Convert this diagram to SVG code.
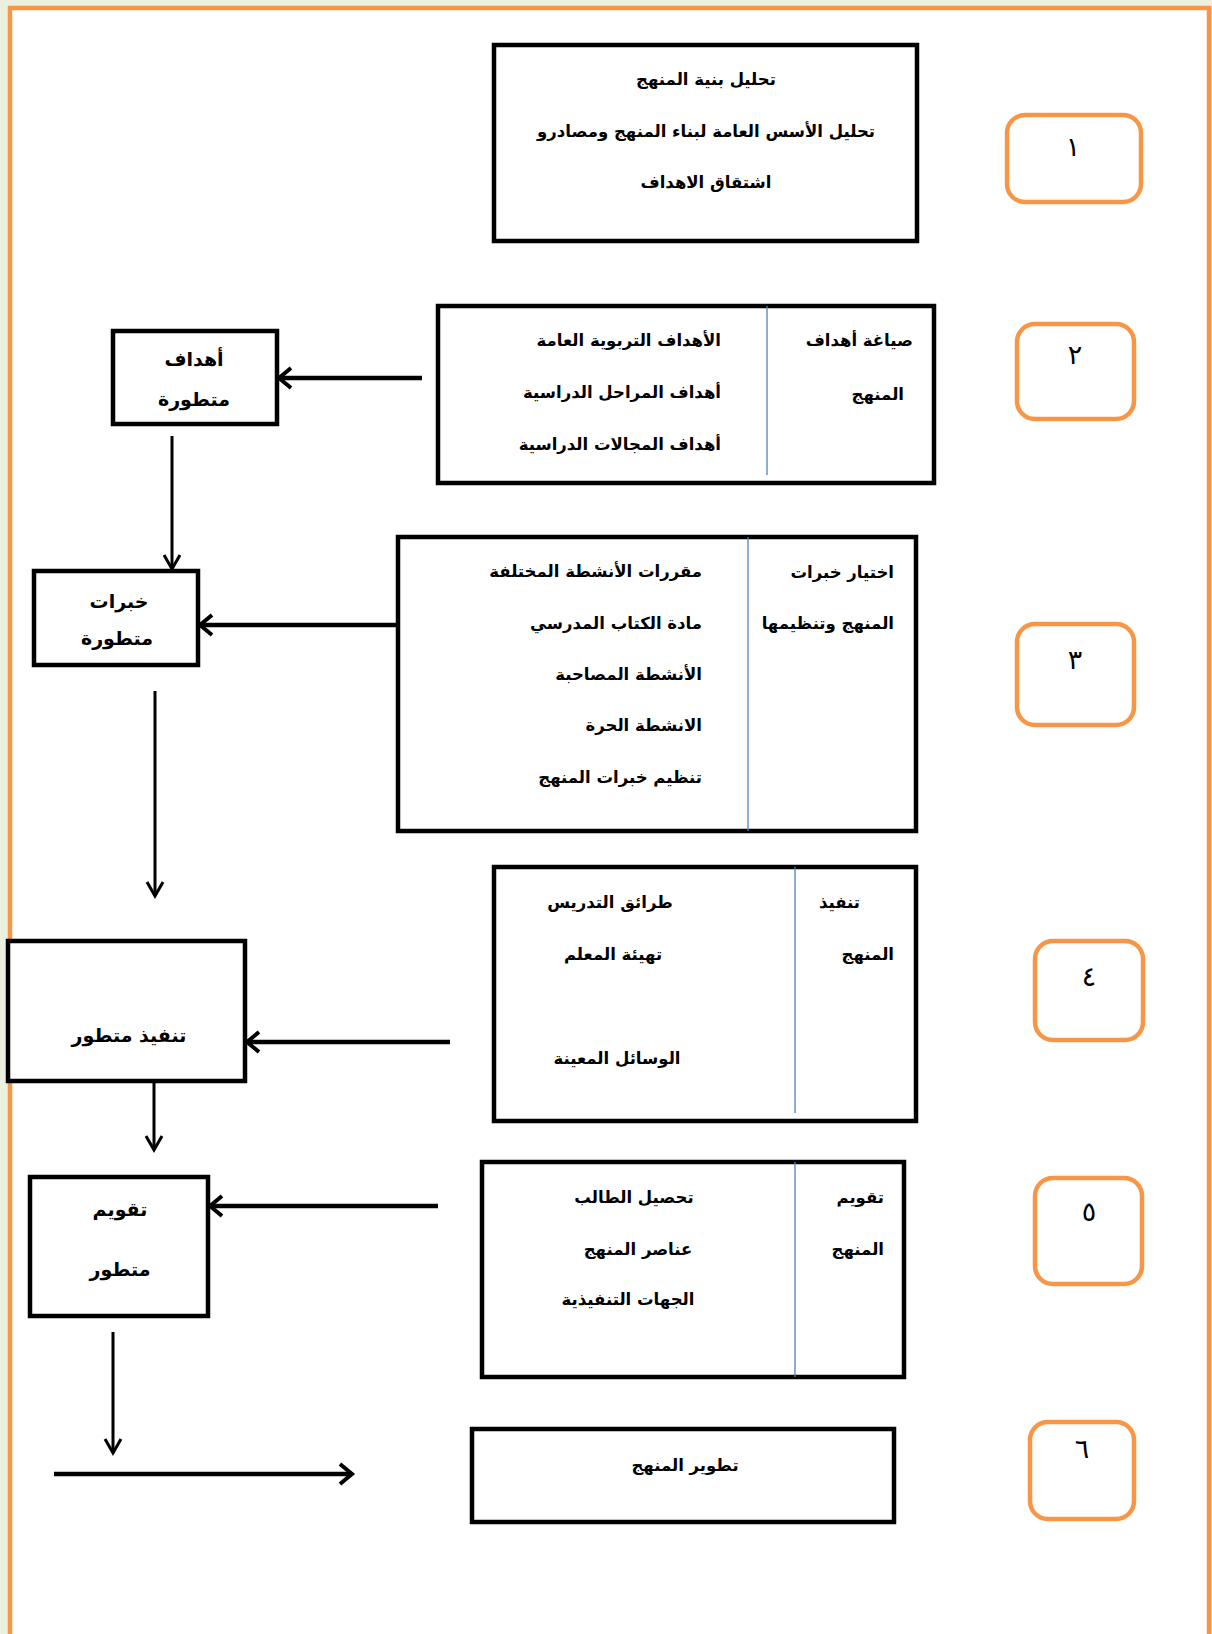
<svg xmlns="http://www.w3.org/2000/svg" width="1212" height="1634" viewBox="0 0 1212 1634">
<defs>
<style>
.box{fill:#fff;stroke:#000;stroke-width:4.5}
.div{stroke:#4f81bd;stroke-width:1.3}
.num{fill:#fff;stroke:#f79646;stroke-width:4.5}
.t{font-family:"DejaVu Sans",sans-serif;font-weight:bold;font-size:16.5px;fill:#000}
.s{font-size:19px}
.n{font-family:"DejaVu Sans",sans-serif;font-size:27px;fill:#000;text-anchor:middle}
.c{text-anchor:middle}
.r{text-anchor:end}
.ln{stroke:#000;stroke-width:4.5;fill:none}
.lt{stroke:#000;stroke-width:3;fill:none}
</style>
<marker id="ah" viewBox="-16 -12 20 24" markerWidth="20" markerHeight="24" refX="0" refY="0" orient="auto" markerUnits="userSpaceOnUse">
<path d="M-12,-10 L0,0 L-12,10" fill="none" stroke="#000" stroke-width="4"/>
</marker>
<marker id="ah2" viewBox="-16 -12 20 24" markerWidth="20" markerHeight="24" refX="0" refY="0" orient="auto" markerUnits="userSpaceOnUse">
<path d="M-14,-8 L0,0 L-14,8" fill="none" stroke="#000" stroke-width="3"/>
</marker>
</defs>
<rect x="0" y="0" width="1212" height="1634" fill="#ebf1de"/>
<rect x="10" y="8" width="1199" height="1640" fill="#fff" stroke="#f79646" stroke-width="4.5"/>

<g id="connectors">
<path class="ln" d="M422,378 L279,378" marker-end="url(#ah)"/>
<path class="lt" d="M172,436 L172,569" marker-end="url(#ah2)"/>
<path class="ln" d="M397,625 L200,625" marker-end="url(#ah)"/>
<path class="lt" d="M155,691 L155,896" marker-end="url(#ah2)"/>
<path class="ln" d="M450,1042 L247,1042" marker-end="url(#ah)"/>
<path class="lt" d="M154,1078 L154,1150" marker-end="url(#ah2)"/>
<path class="ln" d="M438,1206 L210,1206" marker-end="url(#ah)"/>
<path class="lt" d="M113,1332 L113,1453" marker-end="url(#ah2)"/>
<path class="ln" d="M54,1474 L352,1474" marker-end="url(#ah)"/>
</g>

<g id="box1">
<rect class="box" x="494" y="45" width="423" height="196"/>
<text class="t c" x="706" y="85">تحليل بنية المنهج</text>
<text class="t c" x="706" y="137">تحليل الأسس العامة لبناء المنهج ومصادرو</text>
<text class="t c" x="706" y="188">اشتقاق الاهداف</text>
</g>
<g id="num1"><rect class="num" x="1007" y="115" width="134" height="87" rx="18"/><text class="n" x="1073" y="156">١</text></g>

<g id="box2">
<rect class="box" x="438" y="306" width="496" height="177"/>
<line class="div" x1="767" y1="306" x2="767" y2="475"/>
<text class="t r" x="913" y="346">صياغة أهداف</text>
<text class="t r" x="904" y="400">المنهج</text>
<text class="t r" x="721" y="346">الأهداف التربوية العامة</text>
<text class="t r" x="721" y="398">أهداف المراحل الدراسية</text>
<text class="t r" x="721" y="450">أهداف المجالات الدراسية</text>
</g>
<g id="num2"><rect class="num" x="1017" y="324" width="117" height="95" rx="18"/><text class="n" x="1075" y="364">٢</text></g>

<g id="goals">
<rect class="box" x="113" y="331" width="164" height="93"/>
<text class="t s c" x="194" y="366">أهداف</text>
<text class="t s c" x="194" y="406">متطورة</text>
</g>

<g id="experiences">
<rect class="box" x="34" y="571" width="164" height="94"/>
<text class="t s c" x="119" y="608">خبرات</text>
<text class="t s c" x="117" y="645">متطورة</text>
</g>

<g id="box3">
<rect class="box" x="398" y="537" width="518" height="294"/>
<line class="div" x1="748" y1="537" x2="748" y2="831"/>
<text class="t r" x="894" y="578">اختيار خبرات</text>
<text class="t r" x="894" y="629">المنهج وتنظيمها</text>
<text class="t r" x="702" y="577">مقررات الأنشطة المختلفة</text>
<text class="t r" x="702" y="629">مادة الكتاب المدرسي</text>
<text class="t r" x="702" y="680">الأنشطة المصاحبة</text>
<text class="t r" x="702" y="731">الانشطة الحرة</text>
<text class="t r" x="702" y="783">تنظيم خبرات المنهج</text>
</g>
<g id="num3"><rect class="num" x="1017" y="624" width="117" height="101" rx="18"/><text class="n" x="1075" y="669">٣</text></g>

<g id="box4">
<rect class="box" x="494" y="867" width="422" height="254"/>
<line class="div" x1="795" y1="867" x2="795" y2="1113"/>
<text class="t r" x="860" y="908">تنفيذ</text>
<text class="t r" x="894" y="960">المنهج</text>
<text class="t c" x="610" y="908">طرائق التدريس</text>
<text class="t c" x="613" y="960">تهيئة المعلم</text>
<text class="t c" x="617" y="1064">الوسائل المعينة</text>
</g>
<g id="num4"><rect class="num" x="1035" y="941" width="108" height="99" rx="18"/><text class="n" x="1089" y="986">٤</text></g>

<g id="implementation">
<rect class="box" x="8" y="941" width="237" height="140"/>
<text class="t s c" x="129" y="1042">تنفيذ متطور</text>
</g>

<g id="box5">
<rect class="box" x="482" y="1162" width="422" height="215"/>
<line class="div" x1="795" y1="1162" x2="795" y2="1377"/>
<text class="t r" x="884" y="1203">تقويم</text>
<text class="t r" x="884" y="1255">المنهج</text>
<text class="t c" x="634" y="1203">تحصيل الطالب</text>
<text class="t c" x="638" y="1255">عناصر المنهج</text>
<text class="t c" x="628" y="1305">الجهات التنفيذية</text>
</g>
<g id="num5"><rect class="num" x="1035" y="1178" width="107" height="106" rx="18"/><text class="n" x="1089" y="1221">٥</text></g>

<g id="evaluation">
<rect class="box" x="30" y="1177" width="178" height="139"/>
<text class="t s c" x="120" y="1216">تقويم</text>
<text class="t s c" x="120" y="1276">متطور</text>
</g>

<g id="box6">
<rect class="box" x="472" y="1429" width="422" height="93"/>
<text class="t c" x="685" y="1471">تطوير المنهج</text>
</g>
<g id="num6"><rect class="num" x="1030" y="1422" width="104" height="97" rx="18"/><text class="n" x="1082" y="1458">٦</text></g>
</svg>
